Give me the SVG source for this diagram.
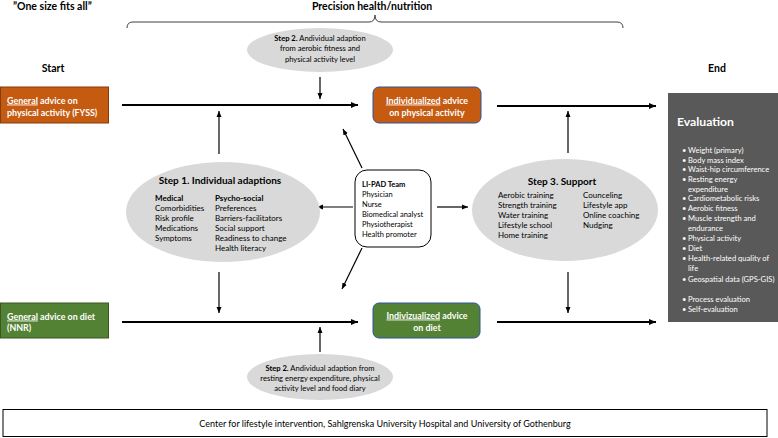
<svg xmlns="http://www.w3.org/2000/svg" width="778" height="438" viewBox="0 0 778 438">
  <style>
    text { font-family: Lato, "Liberation Sans", "DejaVu Sans", sans-serif; fill: #000; }
    .hd { font-weight: bold; font-size: 10.5px; }
    .bx { font-weight: bold; font-size: 8.9px; fill: #fff; }
    .sm { font-size: 7.6px; }
    .ls { font-size: 8px; }
    .tm { font-size: 7.5px; }
    .b { font-weight: bold; }
    .ev { font-size: 7.6px; fill: #fff; }
    .u { text-decoration: underline; }
    .ell { fill: #d9d9d9; }
    .ln { stroke: #000; fill: none; }
    .main { stroke-width: 2; }
    .thin { stroke-width: 1.2; }
  </style>
  <defs>
    <marker id="ah" markerUnits="userSpaceOnUse" markerWidth="8" markerHeight="8" viewBox="0 0 8 8" refX="7" refY="4" orient="auto">
      <path d="M0,1 L7,4 L0,7 Z" fill="#000"/>
    </marker>
    <marker id="ahs" markerUnits="userSpaceOnUse" markerWidth="7" markerHeight="7" viewBox="0 0 7 7" refX="6" refY="3.5" orient="auto">
      <path d="M0,1 L6,3.5 L0,6 Z" fill="#000"/>
    </marker>
  </defs>

  <!-- headings -->
  <g id="headings">
    <text class="hd" x="13" y="10">”One size fits all”</text>
    <text class="hd" x="372" y="10" text-anchor="middle">Precision health/nutrition</text>
    <path d="M127,28 Q127,22 133,22 H369 Q375,22 375,15 Q375,22 381,22 H617 Q623,22 623,28" fill="none" stroke="#404040" stroke-width="1"/>
    <text class="hd" x="53" y="72" text-anchor="middle">Start</text>
    <text class="hd" x="717" y="72" text-anchor="middle">End</text>
  </g>

  <!-- connectors -->
  <g id="connectors">
    <line class="ln main" x1="122" y1="105" x2="358" y2="105" marker-end="url(#ah)"/>
    <line class="ln main" x1="497" y1="106" x2="656" y2="106" marker-end="url(#ah)"/>
    <line class="ln main" x1="122" y1="322" x2="358" y2="322" marker-end="url(#ah)"/>
    <line class="ln main" x1="497" y1="322" x2="656" y2="322" marker-end="url(#ah)"/>
    <line class="ln thin" x1="320" y1="77" x2="320" y2="99" marker-end="url(#ahs)"/>
    <line class="ln thin" x1="320" y1="352" x2="320" y2="327" marker-end="url(#ahs)"/>
    <line class="ln thin" x1="219" y1="154" x2="219" y2="111" stroke="#444" marker-end="url(#ahs)"/>
    <line class="ln thin" x1="219" y1="272" x2="219" y2="313" stroke="#444" marker-end="url(#ahs)"/>
    <line class="ln thin" x1="568" y1="153" x2="568" y2="111" marker-end="url(#ahs)"/>
    <line class="ln thin" x1="568" y1="272" x2="568" y2="313" marker-end="url(#ahs)"/>
    <line class="ln thin" x1="353" y1="207" x2="317" y2="207" marker-end="url(#ahs)"/>
    <line class="ln thin" x1="437" y1="207" x2="468" y2="207" marker-end="url(#ahs)"/>
    <line class="ln thin" x1="362" y1="168" x2="343" y2="129" marker-end="url(#ahs)"/>
    <line class="ln thin" x1="362" y1="248" x2="342" y2="289" marker-end="url(#ahs)"/>
  </g>

  <!-- general physical activity advice -->
  <g id="general-pa">
    <rect x="0.5" y="87" width="108" height="36" fill="#c55a11" stroke="#843c0c" stroke-width="1"/>
    <text class="bx" x="7" y="103.5"><tspan class="u">General</tspan> advice on</text>
    <text class="bx" x="7" y="115.5">physical activity (FYSS)</text>
  </g>

  <!-- individualized physical activity advice -->
  <g id="indiv-pa">
    <rect x="373" y="87" width="108" height="36" rx="6" fill="#c55a11" stroke="#2f5597" stroke-width="1"/>
    <text class="bx" x="427" y="103.5" text-anchor="middle"><tspan class="u">Individualized</tspan> advice</text>
    <text class="bx" x="427" y="115.5" text-anchor="middle">on physical activity</text>
  </g>

  <!-- general diet advice -->
  <g id="general-diet">
    <rect x="0.5" y="303" width="108" height="35" fill="#548235" stroke="#385723" stroke-width="1"/>
    <text class="bx" x="7" y="319.5"><tspan class="u">General</tspan> advice on diet</text>
    <text class="bx" x="7" y="331">(NNR)</text>
  </g>

  <!-- individualized diet advice -->
  <g id="indiv-diet">
    <rect x="373" y="303" width="107" height="35" rx="6" fill="#548235" stroke="#2f5597" stroke-width="1"/>
    <text class="bx" x="427" y="318.5" text-anchor="middle"><tspan class="u">Indivizualized</tspan> advice</text>
    <text class="bx" x="427" y="330.5" text-anchor="middle">on diet</text>
  </g>

  <!-- step 2, physical activity -->
  <g id="step2-pa">
    <ellipse class="ell" cx="320" cy="50" rx="73" ry="22"/>
    <text class="sm" x="320" y="41" text-anchor="middle"><tspan class="b">Step 2.</tspan> Andividual adaption</text>
    <text class="sm" x="320" y="51" text-anchor="middle">from aerobic fitness and</text>
    <text class="sm" x="320" y="61.5" text-anchor="middle">physical activity level</text>
  </g>

  <!-- step 2, diet -->
  <g id="step2-diet">
    <ellipse class="ell" cx="320" cy="377" rx="73" ry="23"/>
    <text class="sm" x="320" y="371" text-anchor="middle"><tspan class="b">Step 2.</tspan> Andividual adaption from</text>
    <text class="sm" x="320" y="381" text-anchor="middle">resting energy expenditure, physical</text>
    <text class="sm" x="320" y="391" text-anchor="middle">activity level and food diary</text>
  </g>

  <!-- step 1 -->
  <g id="step1">
    <ellipse class="ell" cx="223" cy="212" rx="97" ry="50"/>
    <text class="b" x="220" y="184" text-anchor="middle" font-size="10">Step 1. Individual adaptions</text>
    <text class="ls" x="155" y="201"><tspan class="b">Medical</tspan></text>
    <text class="ls" x="155" y="211">Comorbidities</text>
    <text class="ls" x="155" y="221">Risk profile</text>
    <text class="ls" x="155" y="231">Medications</text>
    <text class="ls" x="155" y="241">Symptoms</text>
    <text class="ls" x="215" y="201"><tspan class="b">Psycho-social</tspan></text>
    <text class="ls" x="215" y="211">Preferences</text>
    <text class="ls" x="215" y="221">Barriers-facilitators</text>
    <text class="ls" x="215" y="231">Social support</text>
    <text class="ls" x="215" y="241">Readiness to change</text>
    <text class="ls" x="215" y="251">Health literacy</text>
  </g>

  <!-- LI-PAD team -->
  <g id="lipad-team">
    <rect x="355" y="170" width="76" height="77" rx="12" fill="#fff" stroke="#000" stroke-width="1"/>
    <text class="tm b" x="362" y="187">LI-PAD Team</text>
    <text class="tm" x="362" y="197">Physician</text>
    <text class="tm" x="362" y="207">Nurse</text>
    <text class="tm" x="362" y="217">Biomedical analyst</text>
    <text class="tm" x="362" y="227">Physiotherapist</text>
    <text class="tm" x="362" y="237">Health promoter</text>
  </g>

  <!-- step 3 -->
  <g id="step3">
    <ellipse class="ell" cx="565" cy="210" rx="93" ry="51"/>
    <text class="b" x="562" y="185" text-anchor="middle" font-size="10">Step 3. Support</text>
    <text class="ls" x="498" y="198">Aerobic training</text>
    <text class="ls" x="498" y="208">Strength training</text>
    <text class="ls" x="498" y="218">Water training</text>
    <text class="ls" x="498" y="228">Lifestyle school</text>
    <text class="ls" x="498" y="238">Home training</text>
    <text class="ls" x="583" y="198">Counceling</text>
    <text class="ls" x="583" y="208">Lifestyle app</text>
    <text class="ls" x="583" y="218">Online coaching</text>
    <text class="ls" x="583" y="228">Nudging</text>
  </g>

  <!-- evaluation -->
  <g id="evaluation">
    <rect x="668" y="93" width="110" height="229" fill="#595959"/>
    <text x="677" y="126" font-size="12.2" font-weight="bold" style="fill:#fff">Evaluation</text>
    <g class="ev">
      <text class="ev" x="682" y="153">•</text><text class="ev" x="688" y="153">Weight (primary)</text>
      <text class="ev" x="682" y="163">•</text><text class="ev" x="688" y="163">Body mass index</text>
      <text class="ev" x="682" y="172">•</text><text class="ev" x="688" y="172">Waist-hip circumference</text>
      <text class="ev" x="682" y="182">•</text><text class="ev" x="688" y="182">Resting energy</text>
      <text class="ev" x="688" y="192">expenditure</text>
      <text class="ev" x="682" y="201">•</text><text class="ev" x="688" y="201">Cardiometabolic risks</text>
      <text class="ev" x="682" y="211">•</text><text class="ev" x="688" y="211">Aerobic fitness</text>
      <text class="ev" x="682" y="221">•</text><text class="ev" x="688" y="221">Muscle strength and</text>
      <text class="ev" x="688" y="231">endurance</text>
      <text class="ev" x="682" y="241">•</text><text class="ev" x="688" y="241">Physical activity</text>
      <text class="ev" x="682" y="251">•</text><text class="ev" x="688" y="251">Diet</text>
      <text class="ev" x="682" y="261">•</text><text class="ev" x="688" y="261">Health-related quality of</text>
      <text class="ev" x="688" y="271">life</text>
      <text class="ev" x="682" y="282">•</text><text class="ev" x="688" y="282">Geospatial data (GPS-GIS)</text>
      <text class="ev" x="682" y="302">•</text><text class="ev" x="688" y="302">Process evaluation</text>
      <text class="ev" x="682" y="312">•</text><text class="ev" x="688" y="312">Self-evaluation</text>
    </g>
  </g>

  <!-- footer -->
  <g id="footer">
    <rect x="3" y="409.5" width="764" height="27" fill="#fff" stroke="#000" stroke-width="1"/>
    <text x="385" y="427" text-anchor="middle" font-size="9">Center for lifestyle intervention, Sahlgrenska University Hospital and University of Gothenburg</text>
  </g>
</svg>
